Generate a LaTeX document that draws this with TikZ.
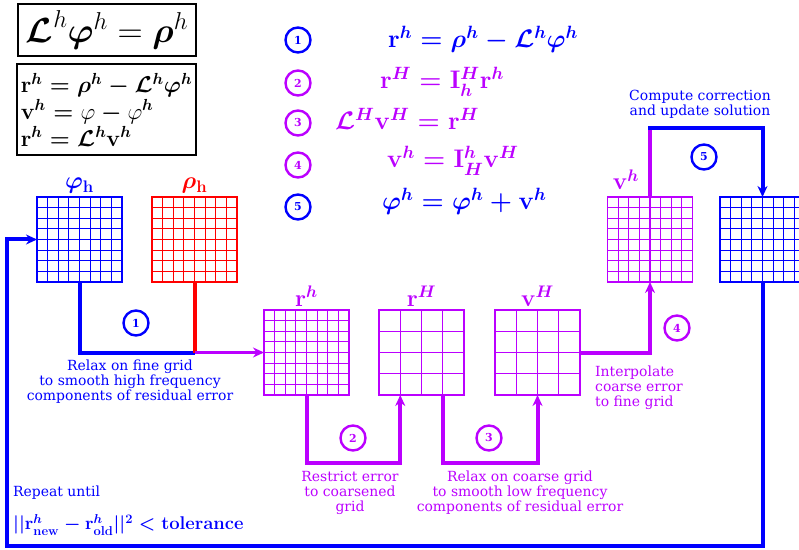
\RequirePackage{fix-cm}
\documentclass[tikz,border=0pt]{standalone}
\usepackage{amsmath,amssymb,bm}
\usepackage[no-math]{fontspec}
\setmainfont{DejaVu Serif}
\usepackage{xcolor}
\usepackage{tikz}
\usetikzlibrary{positioning,arrows.meta,calc}
\definecolor{mgblue}{HTML}{0000FF}
\definecolor{mgviolet}{HTML}{BB00FF}
\definecolor{mgred}{HTML}{FF0000}

\begin{document}
\begin{tikzpicture}[
  x=1bp, y=-1bp,
  gridbox/.style 2 args={draw=#1, line width=1.2bp, minimum size=85bp, inner sep=0pt, outer sep=0pt,
    path picture={
      \foreach \k in {1,...,#2} {
        \draw[#1, line width=1.2bp]
          ($(path picture bounding box.south west)!\k/#2!(path picture bounding box.south east)$) --
          ($(path picture bounding box.north west)!\k/#2!(path picture bounding box.north east)$);
        \draw[#1, line width=1.2bp]
          ($(path picture bounding box.south west)!\k/#2!(path picture bounding box.north west)$) --
          ($(path picture bounding box.south east)!\k/#2!(path picture bounding box.north east)$);
      }}},
  badge/.style={circle, draw=#1, text=#1, line width=2.4bp, minimum size=25bp, inner sep=0pt,
    font=\bfseries\fontsize{11}{11}\selectfont},
  pipe/.style={draw=#1, line width=4bp},
  flow/.style={draw=#1, line width=4bp, -{Stealth[length=11bp, width=10bp]}},
  note/.style={text=#1, font=\fontsize{14}{15}\selectfont, align=center, inner sep=0pt},
  gridlbl/.style={text=#1, font=\fontsize{24}{28}\selectfont\boldmath},
  eqn/.style={text=#1, font=\fontsize{25.5}{30}\selectfont\boldmath, anchor=base west, inner sep=0pt}
]
\useasboundingbox (0,0) rectangle (799,550);

% model equations
\node[draw, line width=2bp, minimum width=178bp, minimum height=52bp,
  font=\fontsize{35}{40}\selectfont] (model) at (107,30)
  {$\bm{\mathcal{L}}^h\bm{\varphi}^h = \bm{\rho}^h$};
\node[draw, line width=2bp, minimum width=179bp, minimum height=91bp, align=left,
  inner sep=2bp, font=\fontsize{23}{27}\selectfont\boldmath] (defs) at (106.5,109.5)
  {$\mathbf{r}^h = \rho^h - \mathcal{L}^h\varphi^h$\\
   $\mathbf{v}^h = \text{\unboldmath$\varphi$} - \text{\unboldmath$\varphi$}^h$\\
   $\mathbf{r}^h = \mathcal{L}^h\mathbf{v}^h$};

% step list
\node[badge=mgblue] (s1) at (298,40) {1};
\node[badge=mgviolet] (s2) at (298,83) {2};
\node[badge=mgviolet] (s3) at (298,123) {3};
\node[badge=mgviolet] (s4) at (298,165) {4};
\node[badge=mgblue] (s5) at (298,207) {5};
\node[eqn=mgblue] (e1) at (388,48) {$\mathbf{r}^h = \rho^h - \mathcal{L}^h\varphi^h$};
\node[eqn=mgviolet] (e2) at (380,89) {$\mathbf{r}^H = \mathbf{I}_h^H\mathbf{r}^h$};
\node[eqn=mgviolet] (e3) at (335,130) {$\mathcal{L}^H\mathbf{v}^H = \mathbf{r}^H$};
\node[eqn=mgviolet] (e4) at (387,168) {$\mathbf{v}^h = \mathbf{I}_H^h\mathbf{v}^H$};
\node[eqn=mgblue] (e5) at (382,210) {$\varphi^h = \varphi^h + \mathbf{v}^h$};

% fine grids
\node[gridbox={mgblue}{8}] (phi) at (79.5,239.5) {};
\node[gridbox={mgred}{8}] (rho) at (194.5,239.5) {};
\node[gridbox={mgviolet}{8}] (rh) at (306.5,352.5) {};
\node[gridbox={mgviolet}{8}] (vh) at (650,239.5) {};
\node[gridbox={mgblue}{8}] (phinew) at (762.5,239.5) {};
% coarse grids
\node[gridbox={mgviolet}{4}] (rH) at (421.5,352.5) {};
\node[gridbox={mgviolet}{4}] (vH) at (537.5,352.5) {};

\node[gridlbl=mgblue, above=0bp of phi] {$\varphi_{\mathbf{h}}$};
\node[gridlbl=mgred, above=0bp of rho] {$\rho_{\mathbf{h}}$};
\node[gridlbl=mgviolet, above=0bp of rh] {$\mathbf{r}^h$};
\node[gridlbl=mgviolet, above=0bp of rH] {$\mathbf{r}^H$};
\node[gridlbl=mgviolet, above=0bp of vH] {$\mathbf{v}^H$};
\node[gridlbl=mgviolet, anchor=base] at (626,190) {$\mathbf{v}^h$};

% turning points
\coordinate (j1) at (rho.south |- rh.west);
\coordinate (low) at (0,463);
\coordinate (high) at (0,128);
\coordinate (back) at (7,546);
\coordinate (r2) at ($(rH.south west)!0.25!(rH.south east)$);
\coordinate (r3) at ($(rH.south west)!0.75!(rH.south east)$);

% 1: relax on fine grid
\draw[pipe=mgblue] (phi.south) |- (j1);
\draw[pipe=mgred] (rho.south) -- (j1);
\draw[flow=mgviolet, line width=3bp] (j1) -- (rh.west);
% 2, 3, 4: coarse correction
\draw[flow=mgviolet] (rh.south) |- (low -| r2) -- (r2);
\draw[flow=mgviolet] (r3) |- (low -| vH.south) -- (vH.south);
\draw[flow=mgviolet] (vH.east) -| (vh.south);
% 5: update
\draw[pipe=mgviolet] (vh.north) -- (vh.north |- high);
\draw[flow=mgblue, shorten <=-2bp] (vh.north |- high) -| (phinew.north);
% repeat
\draw[flow=mgblue] (phinew.south) |- (back) |- (phi.west);

\node[badge=mgblue] (c1) at (136,323) {1};
\node[badge=mgviolet] (c2) at (353,438) {2};
\node[badge=mgviolet] (c3) at (489,438) {3};
\node[badge=mgviolet] (c4) at (677,328) {4};
\node[badge=mgblue] (c5) at (704,157) {5};

\node[note=mgblue] (n1) at (130,382) {Relax on fine grid\\to smooth high frequency\\components of residual error};
\node[note=mgviolet] (n2) at (350,493) {Restrict error\\to coarsened\\grid};
\node[note=mgviolet] (n3) at (520,493) {Relax on coarse grid\\to smooth low frequency\\components of residual error};
\node[note=mgviolet, align=left, anchor=west] (n4) at (595,388) {Interpolate\\coarse error\\to fine grid};
\node[note=mgblue] (n5) at (700,104.5) {Compute correction\\and update solution};
\node[note=mgblue, anchor=west] (n6) at (13,493) {Repeat until};
\node[text=mgblue, anchor=west, inner sep=0pt, font=\fontsize{18.5}{22}\selectfont\boldmath] (n7) at (13,525)
  {$||\mathbf{r}^h_{\mathbf{new}} - \mathbf{r}^h_{\mathbf{old}}||^2 < \mathbf{tolerance}$};
\end{tikzpicture}
\end{document}
